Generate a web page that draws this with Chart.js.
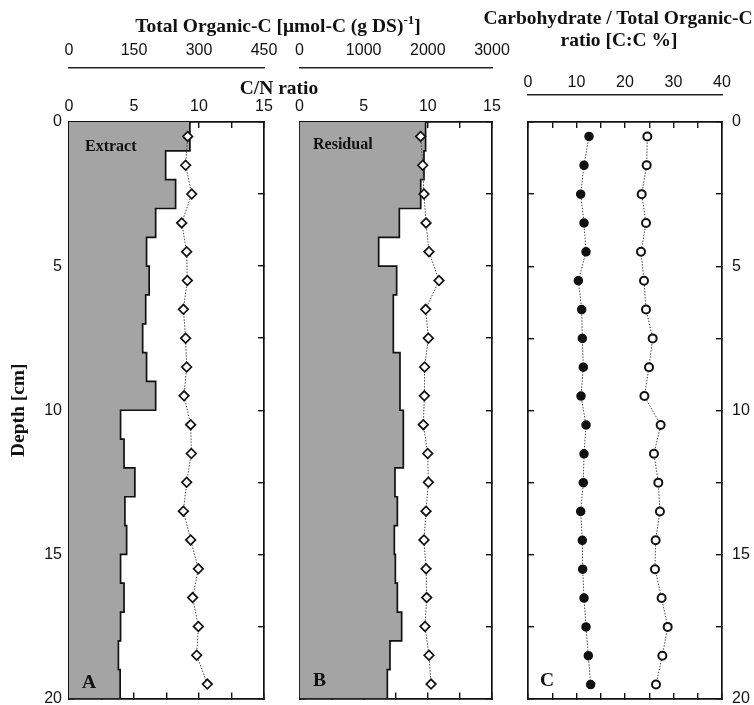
<!DOCTYPE html>
<html><head><meta charset="utf-8">
<script src="https://cdn.jsdelivr.net/npm/chart.js@4.4.0/dist/chart.umd.min.js"></script>
<style>
html,body{margin:0;padding:0;background:#fff;}
#wrap{position:relative;width:754px;height:705px;overflow:hidden;background:#fff;}
canvas{position:absolute;left:0;top:0;}
.t{position:absolute;font-family:"Liberation Serif","Times New Roman",serif;font-weight:bold;color:#111;white-space:nowrap;line-height:1;transform:translate(-50%,-50%);}
.l{position:absolute;font-family:"Liberation Serif","Times New Roman",serif;font-weight:bold;color:#111;white-space:nowrap;line-height:1;transform:translate(0,-50%);}
sup{font-size:13px;position:relative;top:-8px;vertical-align:baseline;}
</style></head><body>
<div id="wrap">
<canvas id="cA" width="754" height="705"></canvas>
<canvas id="cB" width="754" height="705"></canvas>
<canvas id="cC" width="754" height="705"></canvas>
<div class="t" style="left:278px;top:26px;font-size:19.5px">Total Organic-C [μmol-C (g DS)<sup>-1</sup>]</div>
<div class="t" style="left:279px;top:88px;font-size:19.5px">C/N ratio</div>
<div class="t" style="left:618px;top:18px;font-size:19.5px">Carbohydrate / Total Organic-C</div>
<div class="t" style="left:619px;top:40px;font-size:19.5px">ratio [C:C %]</div>
<div class="l" style="left:85px;top:146px;font-size:16px">Extract</div>
<div class="l" style="left:313px;top:144px;font-size:16px">Residual</div>
<div class="l" style="left:82px;top:682px;font-size:19.5px">A</div>
<div class="l" style="left:313px;top:680px;font-size:19.5px">B</div>
<div class="l" style="left:540px;top:680px;font-size:19.5px">C</div>
</div>
<script>
// ---- data (depth in cm) ----
const layerTop    = [0,1,2,3,4,5,6,7,8,9,10,11,12,13,14,15,16,17,18,19];
const layerBottom = [1,2,3,4,5,6,7,8,9,10,11,12,13,14,15,16,17,18,19,20];
const depthMid    = [0.5,1.5,2.5,3.5,4.5,5.5,6.5,7.5,8.5,9.5,10.5,11.5,12.5,13.5,14.5,15.5,16.5,17.5,18.5,19.5];

// Panel A: extract
const tocExtract = [279,223,246,200,179,185,177,170,179,200,119,127,152,129,133,119,127,119,114,118];
const cnExtract  = [9.13,8.97,9.44,8.67,9.05,9.1,8.8,8.97,9.05,8.85,9.36,9.41,9.05,8.8,9.36,9.95,9.51,9.95,9.82,10.64];

// Panel B: residual
const tocResidual = [1965,1940,1889,1556,1234,1514,1462,1462,1566,1566,1618,1618,1488,1525,1478,1494,1525,1592,1410,1369];
const cnResidual  = [9.44,9.6,9.7,9.86,10.09,10.87,9.83,10.04,9.75,9.73,9.65,9.99,10.04,9.86,9.7,9.86,9.91,9.78,10.09,10.25];

// Panel C: carbohydrate / total organic C ratio
const choFilled = [12.58,11.55,10.86,11.55,11.96,10.38,11.07,11.2,11.4,10.93,11.96,11.55,11.4,10.86,11.2,11.27,11.55,11.96,12.44,12.92];
const choOpen   = [24.6,24.47,23.44,24.33,23.3,23.92,24.33,25.7,24.95,24.0,27.35,25.97,26.87,27.2,26.32,26.18,27.55,28.8,27.7,26.39];

// tick labels
const depthTicks = [0,5,10,15,20];
const cnTicks = [0,5,10,15];
const tocExtractTicks = [0,150,300,450];
const tocResidualTicks = [0,1000,2000,3000];
const ratioTicks = [0,10,20,30,40];

// ---- helpers ----
function stepPts(vals){
  const p=[];
  vals.forEach((v,i)=>{p.push({x:v,y:layerTop[i]});p.push({x:v,y:layerBottom[i]});});
  return p;
}
function pts(vals){ return vals.map((v,i)=>({x:v,y:depthMid[i]})); }
function fix(size){
  return function(s){
    if(s.isHorizontal()) s.height=size; else s.width=size;
    s.paddingLeft=0; s.paddingRight=0; s.paddingTop=0; s.paddingBottom=0;
  };
}
const INK='#111';
const tickFont={family:'"Liberation Sans", Arial, sans-serif',size:16};
function onlyIn(list){ return v => list.includes(+v.toFixed(3)) ? String(v) : ''; }

function frameAxis(pos,min,max,step,size,extra){
  const a={
    type:'linear',position:pos,min:min,max:max,z:1,
    reverse:(pos==='left'||pos==='right'),
    ticks:{stepSize:step,display:false,autoSkip:false,maxRotation:0,font:tickFont,color:INK},
    grid:{drawOnChartArea:false,drawTicks:true,tickLength:-6,color:INK,lineWidth:1.4},
    border:{display:true,color:INK,width:1.7},
    afterFit:fix(size)
  };
  if(extra){ Object.keys(extra).forEach(k=>{ a[k]=Object.assign({},a[k],extra[k]); }); }
  return a;
}
function valueAxis(min,max,step,size,labels,weight,pad){
  return {
    type:'linear',position:'top',min:min,max:max,weight:weight,z:1,
    ticks:{stepSize:step,autoSkip:false,maxRotation:0,font:tickFont,color:INK,padding:pad,callback:onlyIn(labels)},
    grid:{drawOnChartArea:false,drawTicks:false,color:INK},
    border:{display:true,color:'#222',width:1.4},
    afterFit:fix(size)
  };
}
function baseOpts(padding,scales){
  return {
    indexAxis:'y',responsive:false,animation:false,events:[],
    layout:{padding:padding},
    plugins:{legend:{display:false},tooltip:{enabled:false},title:{display:false}},
    scales:scales
  };
}
function fillDs(vals,xid){
  return {data:stepPts(vals),xAxisID:xid,yAxisID:'y',borderColor:INK,borderWidth:1.7,
    backgroundColor:'#a4a4a4',fill:'origin',pointRadius:0,tension:0,order:2};
}
function ptDs(vals,xid,style,bg,r,bw){
  return {data:pts(vals),xAxisID:xid,yAxisID:'y',borderColor:'#444',borderWidth:1,borderDash:[1.5,1.5],
    pointStyle:style,pointRadius:r,pointBorderWidth:bw,pointBorderColor:INK,pointBackgroundColor:bg,
    fill:false,tension:0,order:1};
}

// ---- Panel A ----
new Chart(document.getElementById('cA'),{
  type:'line',
  data:{datasets:[fillDs(tocExtract,'xToc'),ptDs(cnExtract,'xCN','rectRot','#fff',4.8,1.7)]},
  options:baseOpts({left:0,right:480,top:0,bottom:0},{
    y:frameAxis('left',0,20,5,69,{
      ticks:{display:true,padding:13,callback:onlyIn(depthTicks)},
      title:{display:true,text:'Depth [cm]',color:INK,padding:{top:7,bottom:0},
        font:{family:'"Liberation Serif", serif',size:19.5,weight:'bold'}}
    }),
    yR:frameAxis('right',0,20,2.5,10),
    xCN:Object.assign(frameAxis('top',0,15,2.5,54,{ticks:{display:true,padding:12,callback:onlyIn(cnTicks)}}),{weight:0,reverse:false}),
    xToc:valueAxis(0,450,150,68,tocExtractTicks,1,8),
    xBot:Object.assign(frameAxis('bottom',0,15,2.5,3),{reverse:false})
  })
});

// ---- Panel B ----
new Chart(document.getElementById('cB'),{
  type:'line',
  data:{datasets:[fillDs(tocResidual,'xToc'),ptDs(cnResidual,'xCN','rectRot','#fff',4.8,1.7)]},
  options:baseOpts({left:289.5,right:252,top:0,bottom:0},{
    y:frameAxis('left',0,20,2.5,10),
    yR:frameAxis('right',0,20,2.5,10),
    xCN:Object.assign(frameAxis('top',0,15,2.5,54,{ticks:{display:true,padding:12,callback:onlyIn(cnTicks)}}),{weight:0,reverse:false}),
    xToc:valueAxis(0,3000,1000,68,tocResidualTicks,1,8),
    xBot:Object.assign(frameAxis('bottom',0,15,2.5,3),{reverse:false})
  })
});

// ---- Panel C ----
new Chart(document.getElementById('cC'),{
  type:'line',
  data:{datasets:[ptDs(choFilled,'xIn','circle','#111',4,1.5),ptDs(choOpen,'xIn','circle','#fff',4,2)]},
  options:baseOpts({left:518,right:0,top:0,bottom:0},{
    y:frameAxis('left',0,20,2.5,10),
    yR:frameAxis('right',0,20,2.5,32,{ticks:{display:true,padding:16,callback:onlyIn(depthTicks)}}),
    xIn:Object.assign(frameAxis('top',0,40,5,27),{weight:0,reverse:false}),
    xOut:valueAxis(0,40,10,95,ratioTicks,1,3),
    xBot:Object.assign(frameAxis('bottom',0,40,5,3),{reverse:false})
  })
});
</script>
</body></html>
